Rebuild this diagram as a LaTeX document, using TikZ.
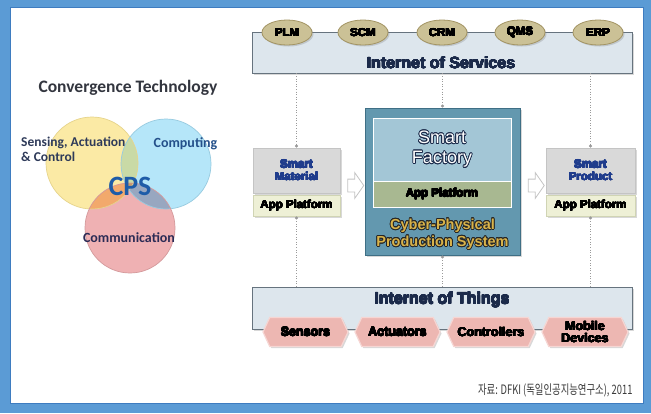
\documentclass[tikz,border=0pt]{standalone}
\usepackage{fontspec}
\setmainfont{Liberation Sans}
\newfontfamily\calfont{Carlito}
\newfontfamily\krfont[FakeStretch=0.72]{Noto Sans CJK KR}
\usepackage[copies]{contour}
\usetikzlibrary{shapes.geometric,shapes.symbols,shapes.arrows,shadows,arrows.meta}
\definecolor{frameblue}{HTML}{5B9BD5}
\definecolor{framedark}{HTML}{3E7CC0}
\definecolor{ycol}{HTML}{FBEAA5}
\definecolor{bcol}{HTML}{B5E6F9}
\definecolor{pcol}{HTML}{EFB1B3}
\definecolor{ybcol}{HTML}{C9DAA6}
\definecolor{ypcol}{HTML}{F2A96C}
\definecolor{bpcol}{HTML}{98A7C0}
\definecolor{ybpcol}{HTML}{C79A6E}
\definecolor{ydraw}{HTML}{E6D48C}
\definecolor{bdraw}{HTML}{98CBE0}
\definecolor{pdraw}{HTML}{D49A9C}
\definecolor{titletext}{HTML}{33363F}
\definecolor{lefttext}{HTML}{2E3A59}
\definecolor{comptext}{HTML}{24508A}
\definecolor{cpstext}{HTML}{1E5CA8}
\definecolor{commtext}{HTML}{2B2B55}
\definecolor{iosfill}{HTML}{DDE6ED}
\definecolor{iosdraw}{HTML}{66737E}
\definecolor{ovalfill}{HTML}{CBC196}
\definecolor{ovaldraw}{HTML}{A39463}
\definecolor{navy}{HTML}{1B2A4A}
\definecolor{grayfill}{HTML}{D9D9D9}
\definecolor{graydraw}{HTML}{C4C4C4}
\definecolor{appfill}{HTML}{EEF0D6}
\definecolor{appdraw}{HTML}{D0D4B4}
\definecolor{smarttext}{HTML}{1F3C8C}
\definecolor{cppsfill}{HTML}{6398AF}
\definecolor{cppsdraw}{HTML}{3F6F85}
\definecolor{sffill}{HTML}{A3C6D6}
\definecolor{sfapp}{HTML}{A8B891}
\definecolor{gold}{HTML}{D9B34A}
\definecolor{hexfill}{HTML}{EDB7B2}
\definecolor{hexdraw}{HTML}{F6D6D3}
\definecolor{conncol}{HTML}{9A9A9A}
\definecolor{srccol}{HTML}{3A3A3A}
\newcommand\heavytext[2]{{\contourlength{0.3pt}\contour{#1}{\textcolor{#1}{#2}}}}
\begin{document}
\begin{tikzpicture}[x=1pt,y=-1pt,
  shade/.style={drop shadow={opacity=0.3,shadow xshift=1.5pt,shadow yshift=-1.5pt}},
  bandbox/.style={draw=iosdraw,fill=iosfill,line width=0.9pt,shade},
  oval/.style={ellipse,draw=ovaldraw,fill=ovalfill,line width=0.8pt,minimum width=50pt,minimum height=25pt,inner sep=0pt,shade,font=\bfseries\fontsize{11.5}{12}\selectfont},
  graybox/.style={draw=graydraw,fill=grayfill,line width=0.8pt,inner sep=0pt,align=center,font=\bfseries\fontsize{11.5}{12.5}\selectfont,text=smarttext,shade},
  appbox/.style={draw=appdraw,fill=appfill,line width=0.8pt,inner sep=0pt,font=\bfseries\fontsize{11.5}{12}\selectfont,shade},
  hexbox/.style={signal,signal to=west and east,signal pointer angle=130,draw=hexdraw,fill=hexfill,line width=1.2pt,minimum height=29pt,inner sep=1pt,align=center,font=\bfseries\fontsize{12.5}{12}\selectfont,shade},
  blockarrow/.style={single arrow,draw=graydraw,fill=white,line width=0.8pt,minimum height=16pt,text height=0pt,text depth=0pt,inner sep=0pt,inner ysep=6pt,single arrow head extend=6.5pt,single arrow tip angle=110,single arrow head indent=0pt},
  conn/.style={draw=conncol,dotted,line width=0.6pt},
  dottip/.style={-{Circle[length=3pt,fill=conncol]}}]
\useasboundingbox (0,0) rectangle (651,413);
% frame
\fill[frameblue] (0,0) rectangle (651,413);
\fill[white] (10,7) rectangle (643,403);
\draw[framedark,line width=0.8pt] (10,7) rectangle (643,403);
% ---------- left: convergence ----------
\node[font=\calfont\bfseries\fontsize{17.5}{20}\selectfont,text=titletext] (title) at (128,88) {Convergence Technology};
\coordinate (cy) at (92,163);
\coordinate (cb) at (166,164);
\coordinate (cp) at (130,228);
\fill[ycol] (cy) circle (46);
\fill[bcol] (cb) circle (45);
\fill[pcol] (cp) circle (45);
\begin{scope}\clip (cy) circle (46); \fill[ybcol] (cb) circle (45); \end{scope}
\begin{scope}\clip (cy) circle (46); \fill[ypcol] (cp) circle (45); \end{scope}
\begin{scope}\clip (cb) circle (45); \fill[bpcol] (cp) circle (45); \end{scope}
\begin{scope}\clip (cy) circle (46); \clip (cb) circle (45); \fill[ybpcol] (cp) circle (45); \end{scope}
\draw[ydraw,line width=0.7pt] (cy) circle (46);
\draw[bdraw,line width=0.7pt] (cb) circle (45);
\draw[pdraw,line width=0.7pt] (cp) circle (45);
\node[anchor=west,align=left,font=\calfont\bfseries\fontsize{13.5}{15.5}\selectfont,text=lefttext,inner sep=0pt] (sac) at (21,149.5) {Sensing, Actuation\\\& Control};
\node[font=\calfont\bfseries\fontsize{14}{16}\selectfont,text=comptext] (comp) at (185.5,144) {Computing};
\node[font=\calfont\bfseries\fontsize{28}{30}\selectfont,text=cpstext] (cps) at (130,186) {CPS};
\node[font=\calfont\bfseries\fontsize{14}{16}\selectfont,text=commtext] (comm) at (129,238) {Communication};
% ---------- Internet of Services ----------
\node[bandbox,minimum width=380pt,minimum height=41pt,inner sep=0pt] (ios) at (442,52.5) {};
\node[font=\bfseries\fontsize{16}{17}\selectfont] (iostext) at (441,63) {\heavytext{navy}{Internet of Services}};
\node[oval] (plm) at (287,32.5) {\heavytext{black}{PLM}};
\node[oval] (scm) at (363,32.5) {\heavytext{black}{SCM}};
\node[oval] (crm) at (442,32.5) {\heavytext{black}{CRM}};
\node[oval] (qms) at (520,32.5) {\heavytext{black}{QMS}};
\node[oval] (erp) at (598,32.5) {\heavytext{black}{ERP}};
% ---------- Internet of Things ----------
\node[bandbox,minimum width=380pt,minimum height=42pt,inner sep=0pt] (iot) at (442,308) {};
\node[font=\bfseries\fontsize{16}{17}\selectfont] (iottext) at (442,300) {\heavytext{navy}{Internet of Things}};
\node[hexbox,minimum width=85pt] (sens) at (305.5,332) {\heavytext{black}{Sensors}};
\node[hexbox,minimum width=85pt] (act) at (397.5,332) {\heavytext{black}{Actuators}};
\node[hexbox,minimum width=88pt] (ctrl) at (491,332) {\heavytext{black}{Controllers}};
\node[hexbox,minimum width=86pt,font=\bfseries\fontsize{12.5}{12}\selectfont] (mob) at (585,332) {\heavytext{black}{Mobile}\\\heavytext{black}{Devices}};
% ---------- Smart Material ----------
\node[graybox,minimum width=87pt,minimum height=45pt] (smat) at (296.5,170.5) {\heavytext{smarttext}{Smart}\\\heavytext{smarttext}{Material}};
\node[appbox,minimum width=87pt,minimum height=21pt] (sapp) at (296.5,205.5) {\heavytext{black}{App Platform}};
% ---------- Smart Product ----------
\node[graybox,minimum width=89pt,minimum height=45pt] (sprod) at (590.5,170.5) {\heavytext{smarttext}{Smart}\\\heavytext{smarttext}{Product}};
\node[appbox,minimum width=89pt,minimum height=21pt] (papp) at (590.5,205.5) {\heavytext{black}{App Platform}};
% ---------- CPPS ----------
\node[draw=cppsdraw,fill=cppsfill,line width=1pt,minimum width=155pt,minimum height=147pt,inner sep=0pt,shade] (cpps) at (442.5,181.5) {};
\node[draw=white,fill=sffill,line width=1pt,minimum width=138pt,minimum height=63pt,inner sep=0pt,align=center,font=\fontsize{18}{20}\selectfont,text=white] (sf) at (442,149.5) {{\contourlength{0.7pt}\contour{navy}{Smart}}\\{\contourlength{0.7pt}\contour{navy}{Factory}}};
\node[draw=white,fill=sfapp,line width=1pt,minimum width=138pt,minimum height=26pt,inner sep=0pt,font=\bfseries\fontsize{11.5}{12}\selectfont] (sfapp) at (442,194) {\heavytext{black}{App Platform}};
\node[align=center,font=\bfseries\fontsize{14.5}{17}\selectfont,text=gold] (cppstext) at (442.5,234.5) {{\contourlength{0.7pt}\contour{black!85}{Cyber-Physical}}\\{\contourlength{0.7pt}\contour{black!85}{Production System}}};
% block arrows
\node[blockarrow] (arl) at (353.5,185.5) {};
\node[blockarrow] (arr) at (534,185.5) {};
% dotted connectors
\draw[conn,dottip] (ios.south -| smat.north) -- (smat.north);
\draw[conn,dottip] (ios.south -| cpps.north) -- (cpps.north);
\draw[conn,dottip] (ios.south -| sprod.north) -- (sprod.north);
\draw[conn,dottip] (iot.north -| sapp.south) -- (sapp.south);
\draw[conn,dottip] (iot.north -| cpps.south) -- (cpps.south);
\draw[conn,dottip] (iot.north -| papp.south) -- (papp.south);
% source
\node[anchor=east,font=\krfont\fontsize{13}{15}\selectfont,text=srccol] (src) at (636,390) {자료: DFKI (독일인공지능연구소), 2011};
\end{tikzpicture}
\end{document}
